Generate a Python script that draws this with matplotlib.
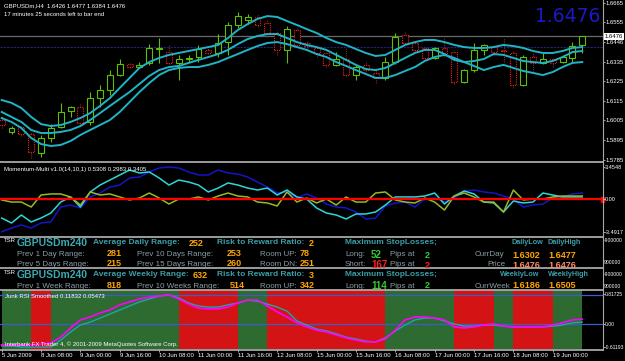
import matplotlib
matplotlib.use('Agg')
import matplotlib.pyplot as plt
from matplotlib.patches import Rectangle
from matplotlib.lines import Line2D

W, H = 625, 361

# ---------------- data ----------------
opens = [1.6007, 1.5940, 1.5968, 1.5928, 1.5822, 1.5906, 1.5968, 1.6057, 1.6080, 1.5996,
         1.6130, 1.6175, 1.6259, 1.6321, 1.6304, 1.6327, 1.6405, 1.6388, 1.6327, 1.6349,
         1.6360, 1.6400, 1.6383, 1.6444, 1.6540, 1.6568, 1.6585, 1.6551, 1.6495, 1.6400,
         1.6512, 1.6439, 1.6411, 1.6383, 1.6316, 1.6349, 1.6259, 1.6316, 1.6271, 1.6243,
         1.6332, 1.6484, 1.6439, 1.6411, 1.6355, 1.6411, 1.6388, 1.6220, 1.6287, 1.6400,
         1.6416, 1.6400, 1.6383, 1.6203, 1.6360, 1.6327, 1.6349, 1.6332, 1.6355, 1.6426]
highs = [1.6029, 1.5973, 1.5979, 1.5934, 1.5923, 1.5984, 1.6103, 1.6086, 1.6097, 1.6164,
         1.6203, 1.6287, 1.6349, 1.6327, 1.6332, 1.6433, 1.6467, 1.6428, 1.6372, 1.6372,
         1.6428, 1.6428, 1.6489, 1.6557, 1.6613, 1.6602, 1.6602, 1.6568, 1.6512, 1.6534,
         1.6523, 1.6456, 1.6422, 1.6394, 1.6388, 1.6411, 1.6316, 1.6338, 1.6287, 1.6360,
         1.6495, 1.6501, 1.6444, 1.6416, 1.6416, 1.6473, 1.6400, 1.6293, 1.6439, 1.6433,
         1.6428, 1.6467, 1.6394, 1.6372, 1.6388, 1.6383, 1.6355, 1.6372, 1.6444, 1.6477]
lows = [1.5962, 1.5928, 1.5917, 1.5794, 1.5799, 1.5883, 1.5962, 1.6024, 1.5979, 1.5979,
        1.6080, 1.6147, 1.6254, 1.6299, 1.6299, 1.6316, 1.6327, 1.6321, 1.6231, 1.6332,
        1.6332, 1.6377, 1.6360, 1.6372, 1.6523, 1.6545, 1.6529, 1.6473, 1.6372, 1.6327,
        1.6416, 1.6405, 1.6360, 1.6304, 1.6310, 1.6254, 1.6231, 1.6276, 1.6214, 1.6231,
        1.6321, 1.6433, 1.6388, 1.6349, 1.6349, 1.6360, 1.6209, 1.6214, 1.6276, 1.6372,
        1.6372, 1.6332, 1.6187, 1.6198, 1.6276, 1.6321, 1.6304, 1.6327, 1.6327, 1.6384]
closes = [1.5979, 1.5962, 1.5928, 1.5827, 1.5906, 1.5962, 1.6052, 1.6080, 1.5990, 1.6130,
          1.6175, 1.6259, 1.6321, 1.6304, 1.6316, 1.6411, 1.6411, 1.6327, 1.6349, 1.6355,
          1.6405, 1.6383, 1.6439, 1.6540, 1.6590, 1.6585, 1.6540, 1.6495, 1.6400, 1.6517,
          1.6428, 1.6422, 1.6383, 1.6316, 1.6349, 1.6259, 1.6304, 1.6287, 1.6243, 1.6332,
          1.6473, 1.6439, 1.6400, 1.6355, 1.6411, 1.6383, 1.6220, 1.6287, 1.6400, 1.6428,
          1.6388, 1.6394, 1.6203, 1.6360, 1.6327, 1.6349, 1.6327, 1.6360, 1.6422, 1.6476]

band_top = [1.6119, 1.6103, 1.6074, 1.6024, 1.5984, 1.5973, 1.5979, 1.5996, 1.6018, 1.6046,
            1.6086, 1.6130, 1.6187, 1.6243, 1.6299, 1.6332, 1.6355, 1.6372, 1.6383, 1.6394,
            1.6405, 1.6416, 1.6428, 1.6467, 1.6512, 1.6545, 1.6574, 1.6590, 1.6585, 1.6562,
            1.6540, 1.6517, 1.6495, 1.6467, 1.6444, 1.6428, 1.6405, 1.6383, 1.6366, 1.6372,
            1.6400, 1.6428, 1.6444, 1.6456, 1.6456, 1.6444, 1.6428, 1.6416, 1.6411, 1.6411,
            1.6416, 1.6428, 1.6422, 1.6411, 1.6394, 1.6383, 1.6383, 1.6394, 1.6411, 1.6416]
band_mid = [1.6052, 1.6024, 1.5996, 1.5951, 1.5934, 1.5934, 1.5940, 1.5951, 1.5973, 1.6007,
            1.6046, 1.6086, 1.6125, 1.6164, 1.6209, 1.6254, 1.6287, 1.6304, 1.6310, 1.6327,
            1.6344, 1.6360, 1.6377, 1.6400, 1.6433, 1.6461, 1.6478, 1.6489, 1.6489, 1.6467,
            1.6444, 1.6428, 1.6416, 1.6400, 1.6372, 1.6344, 1.6316, 1.6293, 1.6287, 1.6299,
            1.6327, 1.6355, 1.6383, 1.6400, 1.6400, 1.6377, 1.6344, 1.6332, 1.6338, 1.6349,
            1.6377, 1.6372, 1.6355, 1.6338, 1.6332, 1.6327, 1.6338, 1.6360, 1.6388, 1.6394]
band_low = [1.6018, 1.5996, 1.5962, 1.5906, 1.5872, 1.5861, 1.5867, 1.5889, 1.5923, 1.5951,
            1.5979, 1.6007, 1.6052, 1.6108, 1.6164, 1.6214, 1.6259, 1.6287, 1.6299, 1.6304,
            1.6304, 1.6316, 1.6332, 1.6355, 1.6377, 1.6400, 1.6422, 1.6439, 1.6444, 1.6433,
            1.6416, 1.6400, 1.6377, 1.6360, 1.6332, 1.6310, 1.6287, 1.6265, 1.6243, 1.6243,
            1.6259, 1.6282, 1.6304, 1.6338, 1.6360, 1.6372, 1.6355, 1.6332, 1.6310, 1.6287,
            1.6304, 1.6316, 1.6299, 1.6282, 1.6271, 1.6259, 1.6276, 1.6304, 1.6327, 1.6332]

mom_blue = [-3.43, -3.03, -2.71, -3.03, -2.50, -2.39, -0.80, -0.59, -0.90, 0.27,
            0.69, 1.33, 1.54, 2.29, 2.39, 2.93, 3.35, 3.46, 3.35, 2.93,
            2.61, 2.61, 3.14, 2.82, 2.71, 2.39, 1.86, 1.33, 0.69, 0.80,
            0.16, 0.59, 0.16, -0.48, -0.80, -0.90, -1.33, -2.07, -1.97, -0.69,
            -0.37, -0.27, -0.80, 0.05, 0.16, -0.27, 0.16, 0.90, 1.01, 0.80,
            0.69, 0.37, 0.05, -0.80, -0.59, -0.48, 0.16, 0.27, 0.59, 0.69]
mom_cyan = [-1.97, -2.50, -1.65, -2.39, -1.97, -1.44, -0.27, 0.27, -0.80, 0.80,
            1.54, 2.07, 2.61, 3.14, 2.82, 2.93, 2.29, 1.54, 2.07, 1.86,
            1.54, 0.80, 1.22, 1.76, 1.54, 1.22, 1.01, 1.22, 0.48, 1.01,
            0.27, 0.05, -0.90, -1.44, -1.65, -2.07, -1.54, -1.54, -1.33, -0.59,
            0.27, 0.27, 0.27, 0.37, 0.69, -0.48, 0.37, 0.90, 0.59, -0.27,
            -0.37, -1.33, -0.16, -0.37, -0.27, 0.69, 0.48, 0.27, 0.27, 0.27]
mom_yellow = [-0.05, -0.27, -0.27, -0.80, 0.48, 0.59, 0.59, 0.27, -0.59, 0.80,
              0.48, 0.59, 0.27, -0.05, 0.16, 0.69, 0.16, -0.48, 0.05, 0.05,
              0.27, -0.05, 0.37, 0.69, 0.37, 0.27, -0.27, -0.37, -0.69, 0.80,
              -0.27, 0.16, -0.37, 0.05, -0.59, 0.27, -0.27, -0.27, 0.69, 0.80,
              -0.05, -0.27, -0.37, 0.16, -0.27, -1.12, 0.37, 0.69, 0.27, -0.27,
              -0.27, -1.33, 1.01, -0.05, 0.05, 0.05, 0.27, 0.37, 0.37, 0.37]

rsi_magenta = [-0.56, -0.56, -0.56, -0.56, -0.54, -0.51, -0.35, -0.10, 0.12, 0.20,
               0.31, 0.39, 0.53, 0.61, 0.69, 0.74, 0.77, 0.80, 0.69, 0.55,
               0.44, 0.42, 0.42, 0.47, 0.58, 0.66, 0.66, 0.50, 0.34, 0.20,
               0.04, -0.07, -0.16, -0.21, -0.29, -0.37, -0.43, -0.48, -0.48, -0.40,
               -0.16, 0.12, 0.20, 0.20, 0.17, 0.12, -0.07, -0.10, -0.07, -0.02,
               0.01, -0.05, -0.07, -0.07, -0.07, -0.07, -0.02, 0.04, 0.12, 0.14]
rsi_teal = [-0.59, -0.59, -0.62, -0.62, -0.62, -0.62, -0.43, -0.21, -0.02, 0.06,
            0.17, 0.28, 0.39, 0.50, 0.61, 0.69, 0.77, 0.80, 0.72, 0.58,
            0.50, 0.47, 0.47, 0.53, 0.58, 0.66, 0.63, 0.55, 0.47, 0.36,
            0.09, -0.02, -0.13, -0.18, -0.26, -0.35, -0.40, -0.46, -0.48, -0.37,
            -0.18, -0.02, 0.12, 0.17, 0.17, 0.09, 0.01, -0.05, -0.05, -0.02,
            -0.02, -0.05, -0.07, -0.07, -0.07, -0.07, -0.05, -0.02, 0.04, 0.06]
# background state of the Junk RSI window, one letter per bar
rsi_zone = "GGGRRGGGGGGGGGGGGGRRRRRRGGGRRRRRRRRRRRRGGGGGGGRRRRGGRRRRGGG"

price_ticks = [1.6665, 1.6555, 1.6446, 1.6335, 1.6225, 1.6115, 1.6005, 1.5895, 1.5785]
bid = 1.6476
blue_level = 1.6416
time_bars = [0, 4, 8, 12, 16, 20, 24, 28, 32, 36, 40, 44, 48, 52, 56]
time_labels = ['5 Jun 2009', '8 Jun 08:00', '9 Jun 00:00', '9 Jun 16:00', '10 Jun 08:00',
               '11 Jun 00:00', '11 Jun 16:00', '12 Jun 08:00', '15 Jun 00:00', '15 Jun 16:00',
               '16 Jun 08:00', '17 Jun 00:00', '17 Jun 16:00', '18 Jun 08:00', '19 Jun 00:00']

# ---------------- figure ----------------
BG = 'black'
GRID = '#a8a8a8'
FONT = 'Liberation Sans'
fig = plt.figure(figsize=(W / 100, H / 100), dpi=100, facecolor=BG)


def box(x0, y0, x1, y1):
    return [x0 / W, 1 - y1 / H, (x1 - x0) / W, (y1 - y0) / H]


def put(x, y, s, color='white', size=4.3, weight='normal', ha='left', family=FONT, **kw):
    fig.text(x / W, 1 - y / H, s, color=color, fontsize=size, fontweight=weight,
             ha=ha, va='center', family=family, **kw)


def pane(y0, y1, labelsize=4.3):
    ax = fig.add_axes(box(0, y0, 603, y1), facecolor=BG)
    ax.set_xlim(-0.17, 61.11)
    for s in ax.spines.values():
        s.set_visible(False)
    ax.yaxis.tick_right()
    ax.tick_params(axis='y', colors='#c0c0c0', labelcolor='white', labelsize=labelsize,
                   length=1.2, width=0.6, pad=0.4)
    ax.tick_params(axis='x', bottom=False, labelbottom=False)
    return ax


n = len(opens)
xs = list(range(n))

# ---- main price window ----
ax = pane(0, 161)
ax.set_ylim(1.57769, 1.66801)
ax.set_yticks(price_ticks)
ax.set_yticklabels(['%.4f' % p for p in price_ticks], family=FONT)
ax.axhline(bid, color='#6a6a6a', lw=0.9, zorder=1)
ax.axhline(blue_level, color='#22227a', lw=0.8, ls=(0, (2, 1)), zorder=1)

BULL = '#5fbf00'
BEAR = '#ff1a1a'
for i in xs:
    o, h, l, c = opens[i], highs[i], lows[i], closes[i]
    if c >= o:
        ax.vlines(i, l, h, color=BULL, lw=0.8, zorder=2)
        ax.add_patch(Rectangle((i - 0.3, o), 0.6, max(c - o, 0.00005), facecolor=BG,
                               edgecolor=BULL, lw=0.8, zorder=3))
    else:
        ax.vlines(i, l, h, color='#8a2a10', lw=0.8, ls=(0, (1, 1)), zorder=2)
        ax.add_patch(Rectangle((i - 0.3, c), 0.6, o - c, facecolor=BG,
                               edgecolor=BEAR, lw=0.8, ls=(0, (1, 1)), zorder=3))

for band in (band_top, band_mid, band_low):
    ax.plot(xs, band, color='#1fb4c6', lw=1.4, zorder=4)

put(4, 6, 'GBPUSDm,H4  1.6426 1.6477 1.6384 1.6476')
put(4, 14, '17 minutes 25 seconds left to bar end')
put(600, 17, '1.6476', color='#1a1ac8', size=13.5, ha='right', family='DejaVu Sans')
ax.text(1.003, (bid - 1.57769) / (1.66801 - 1.57769), '%.4f' % bid, transform=ax.transAxes,
        color='black', fontsize=4.3, va='center', ha='left', family=FONT,
        bbox=dict(boxstyle='square,pad=0.15', fc='white', ec='none'), clip_on=False)

# ---- momentum window ----
am = pane(163, 236, labelsize=4.0)
am.set_ylim(-3.883, 3.883)
am.set_yticks([3.4548, 0, -3.4917])
am.set_yticklabels(['3.4548', '0.00', '-3.4917'], family=FONT)
am.axhline(0, color='#ff0000', lw=1.6, zorder=5)
am.plot(xs, mom_blue, color='#1414c8', lw=1.1, zorder=3)
am.plot(xs, mom_cyan, color='#2fd6d6', lw=1.1, zorder=3)
am.plot(xs, mom_yellow, color='#9ab820', lw=1.1, zorder=3)
am.add_patch(Rectangle((0.997, 0.47), 0.005, 0.06, transform=am.transAxes, color='#ff0000',
                       clip_on=False, zorder=1))
put(4, 170, 'Momentum-Multi v1.0(14,10,1) 0.5308 0.2983 0.3405')

# ---- TSR text windows ----
TEAL = '#3c9ea6'
GREYL = '#8a9ea8'
ORANGE = '#ffa500'
SALMON = '#ff8c66'
LGREEN = '#33cc33'
LRED = '#ff2020'
for top in (0, 32):
    put(4, 241 + top, 'TSR', size=4.3)
    put(17, 243 + top, 'GBPUSDm240', color='#3aa8b0', size=7.5, weight='bold')
    put(217, 243 + top, 'Risk to Reward Ratio:', color=TEAL, size=6, weight='bold')
    put(345, 243 + top, 'Maximum StopLosses;', color=TEAL, size=6, weight='bold')

put(93, 243, 'Average Daily Range:', color=TEAL, size=6, weight='bold')
put(189, 243, '252', color=ORANGE, size=6.5, weight='bold')
put(309, 243, '2', color=ORANGE, size=6.5, weight='bold')
put(512, 243, 'DailyLow', color=TEAL, size=5.2, weight='bold')
put(548, 243, 'DailyHigh', color=TEAL, size=5.2, weight='bold')

put(17, 254, 'Prev 1 Day Range:', color=GREYL, size=5.8)
put(107, 254, '281', color=ORANGE, size=6.5, weight='bold')
put(137, 254, 'Prev 10 Days Range:', color=GREYL, size=5.8)
put(227, 254, '253', color=ORANGE, size=6.5, weight='bold')
put(260, 254, 'Room UP:', color=GREYL, size=5.8)
put(300, 254, '78', color=ORANGE, size=6.5, weight='bold')
put(345, 255, 'Long:', color=GREYL, size=5.8)
put(371, 255, '52', color=LGREEN, size=7, weight='bold')
put(390, 255, 'Pips at', color=GREYL, size=5.8)
put(425, 255, '2', color=LGREEN, size=6.5, weight='bold')
put(475, 255, 'CurrDay', color=GREYL, size=5.8)
put(512, 255, '1.6302', color=ORANGE, size=6.5, weight='bold')
put(548, 255, '1.6477', color=ORANGE, size=6.5, weight='bold')

put(17, 264, 'Prev 5 Days Range:', color=GREYL, size=5.8)
put(107, 264, '215', color=ORANGE, size=6.5, weight='bold')
put(137, 264, 'Prev 15 Days Range:', color=GREYL, size=5.8)
put(227, 264, '260', color=ORANGE, size=6.5, weight='bold')
put(260, 264, 'Room DN:', color=GREYL, size=5.8)
put(300, 264, '251', color=ORANGE, size=6.5, weight='bold')
put(345, 265, 'Short:', color=GREYL, size=5.8)
put(371, 265, '167', color=LRED, size=7, weight='bold')
put(390, 265, 'Pips at', color=GREYL, size=5.8)
put(425, 265, '2', color=LRED, size=6.5, weight='bold')
put(487, 265, 'Price', color=GREYL, size=5.8)
put(512, 265, '1.6476', color=SALMON, size=6.5, weight='bold')
put(548, 265, '1.6476', color=SALMON, size=6.5, weight='bold')

put(93, 275, 'Average Weekly Range:', color=TEAL, size=6, weight='bold')
put(193, 275, '632', color=ORANGE, size=6.5, weight='bold')
put(309, 275, '3', color=ORANGE, size=6.5, weight='bold')
put(500, 275, 'WeeklyLow', color=TEAL, size=5.2, weight='bold')
put(548, 275, 'WeeklyHigh', color=TEAL, size=5.2, weight='bold')
put(17, 286, 'Prev 1 Week Range:', color=GREYL, size=5.8)
put(107, 286, '818', color=ORANGE, size=6.5, weight='bold')
put(137, 286, 'Prev 10 Weeks Range:', color=GREYL, size=5.8)
put(230, 286, '514', color=ORANGE, size=6.5, weight='bold')
put(260, 286, 'Room UP:', color=GREYL, size=5.8)
put(300, 286, '342', color=ORANGE, size=6.5, weight='bold')
put(345, 286, 'Long:', color=GREYL, size=5.8)
put(371, 286, '114', color=LGREEN, size=7, weight='bold')
put(390, 286, 'Pips at', color=GREYL, size=5.8)
put(425, 286, '2', color=LGREEN, size=6.5, weight='bold')
put(475, 286, 'CurrWeek', color=GREYL, size=5.8)
put(512, 286, '1.6186', color=ORANGE, size=6.5, weight='bold')
put(548, 286, '1.6505', color=ORANGE, size=6.5, weight='bold')

for yy, s in ((240, '-900000'), (262, '900000'), (274, '-900000'), (287, '900000')):
    put(604, yy, s, size=3.6)

# ---- Junk RSI window ----
aj = pane(290, 349, labelsize=3.6)
aj.set_ylim(-0.673, 0.935)
for i, z in enumerate(rsi_zone):
    aj.axvspan(i, i + 1, color='#2e6b30' if z == 'G' else '#d41414', lw=0, zorder=0)
aj.axhline(0.8, color='#3a5ec8', lw=0.9, zorder=2)
aj.axhline(0, color='#3a5ec8', lw=0.9, zorder=2)
aj.plot(xs, rsi_teal, color='#1fa6a6', lw=1.0, zorder=3)
aj.plot(xs, rsi_magenta, color='#ff00ff', lw=1.2, zorder=4)
aj.set_yticks([0.81725, 0, -0.61193])
aj.set_yticklabels(['0.81725', '0.00', '-0.61193'], family=FONT)
aj.set_xticks(time_bars)
aj.set_xticklabels(time_labels, family=FONT)
aj.tick_params(axis='x', bottom=True, labelbottom=True, colors='#c0c0c0', labelcolor='white',
               labelsize=4.3, length=2, width=0.6, pad=1)
for lab in aj.get_xticklabels():
    lab.set_ha('left')
put(5, 296, 'Junk RSI Smoothed 0.11832 0.05473')
put(5, 344, 'Interbank FX Trader 4, \u00a9 2001-2009 MetaQuotes Software Corp.')

# ---- window separators ----
for y in (162, 236.5, 267.5, 289.5, 349.5):
    fig.add_artist(Line2D([0, 603 / W], [1 - y / H] * 2, color=GRID, lw=1.3))
fig.add_artist(Line2D([603 / W] * 2, [1 - 349.5 / H, 1], color=GRID, lw=0.8))

fig.savefig('out.png', dpi=100, facecolor=BG)
